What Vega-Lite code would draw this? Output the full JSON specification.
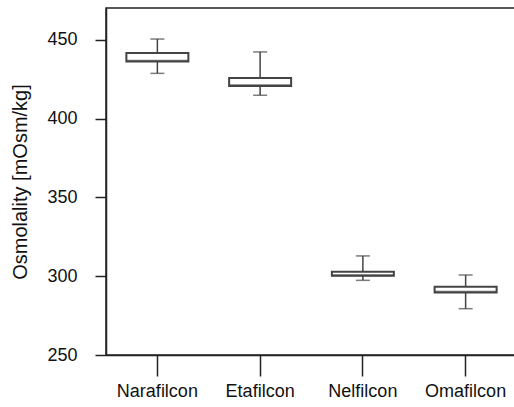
{
  "$schema": "https://vega.github.io/schema/vega-lite/v6.json",
  "autosize": "none",
  "width": 411,
  "height": 347,
  "padding": {"left": 106, "top": 8, "right": 0, "bottom": 52},
  "background": "white",
  "config": {
    "view": {"stroke": "#222222", "strokeWidth": 1.5},
    "font": "Liberation Sans",
    "axis": {"grid": false, "domainColor": "#222222", "tickColor": "#222222", "domainWidth": 1.5, "tickWidth": 1.5, "labelColor": "#111111", "titleColor": "#111111", "labelFont": "Liberation Sans", "titleFont": "Liberation Sans"}
  },
  "data": {
    "values": [
      {"lens": "Narafilcon", "min": 428.8, "q1": 436.4, "median": 436.8, "q3": 441.7, "max": 450.6},
      {"lens": "Etafilcon", "min": 414.9, "q1": 420.8, "median": 421.2, "q3": 425.9, "max": 442.4},
      {"lens": "Nelfilcon", "min": 297.4, "q1": 300.3, "median": 300.7, "q3": 302.9, "max": 312.9},
      {"lens": "Omafilcon", "min": 279.4, "q1": 289.7, "median": 290.1, "q3": 293.4, "max": 300.8}
    ]
  },
  "encoding": {
    "x": {
      "field": "lens", "type": "nominal", "sort": null,
      "scale": {"paddingInner": 0, "paddingOuter": 0},
      "axis": {"title": null, "labelAngle": 0, "labelFontSize": 18, "labelFontWeight": "normal", "tickSize": 21, "labelPadding": 6, "domain": true}
    }
  },
  "layer": [
    {
      "mark": {"type": "rule", "color": "#444444", "strokeWidth": 1.5},
      "encoding": {
        "y": {"field": "min", "type": "quantitative",
          "scale": {"domain": [250, 470.3], "nice": false, "zero": false},
          "axis": {"title": "Osmolality [mOsm/kg]", "values": [250, 300, 350, 400, 450], "labelFontSize": 18, "titleFontSize": 20, "titleFontWeight": "normal", "tickSize": 11, "labelPadding": 18, "titlePadding": 16}},
        "y2": {"field": "max"}
      }
    },
    {
      "mark": {"type": "tick", "color": "#444444", "thickness": 1.5, "size": 14},
      "encoding": {"y": {"field": "min", "type": "quantitative"}}
    },
    {
      "mark": {"type": "tick", "color": "#444444", "thickness": 1.5, "size": 14},
      "encoding": {"y": {"field": "max", "type": "quantitative"}}
    },
    {
      "mark": {"type": "bar", "fill": "white", "stroke": "#444444", "strokeWidth": 2, "size": 62},
      "encoding": {"y": {"field": "q1", "type": "quantitative"}, "y2": {"field": "q3"}}
    },
    {
      "mark": {"type": "tick", "color": "#444444", "thickness": 2, "size": 62},
      "encoding": {"y": {"field": "median", "type": "quantitative"}}
    }
  ]
}
